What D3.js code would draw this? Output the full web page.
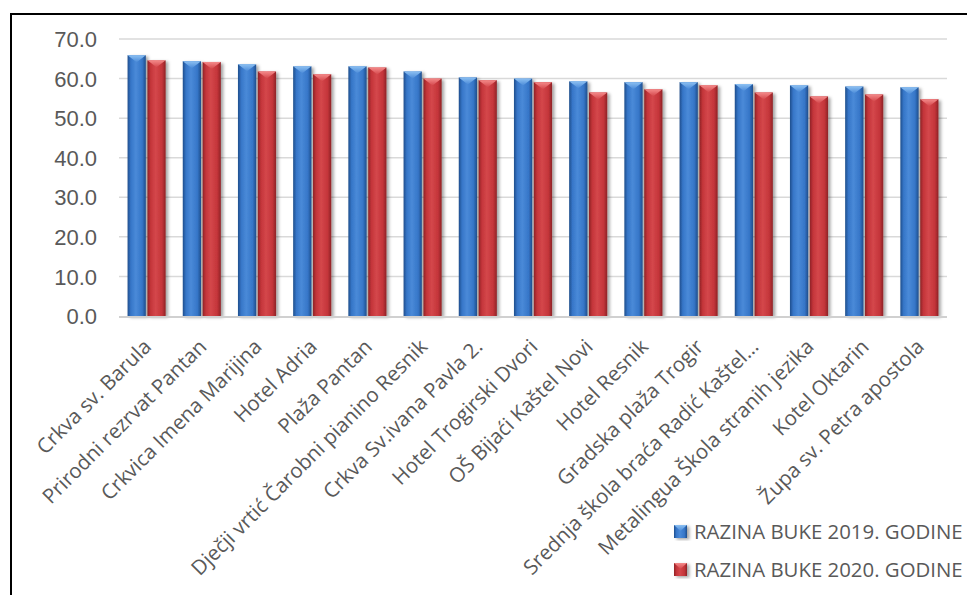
<!DOCTYPE html>
<html>
<head>
<meta charset="utf-8">
<script src="https://cdn.jsdelivr.net/npm/d3@7"></script>
<style>
  html, body { margin: 0; padding: 0; background: #fff; overflow: hidden; }
  svg { display: block; font-family: "Open Sans", "Noto Sans", sans-serif; }
</style>
</head>
<body>
<svg id="chart" width="967" height="595"></svg>
<script>
// Measurement locations
const categories = [
  "Crkva sv. Barula",
  "Prirodni rezrvat Pantan",
  "Crkvica Imena Marijina",
  "Hotel Adria",
  "Plaža Pantan",
  "Dječji vrtić Čarobni pianino Resnik",
  "Crkva Sv.ivana Pavla 2.",
  "Hotel Trogirski Dvori",
  "OŠ Bijaći Kaštel Novi",
  "Hotel Resnik",
  "Gradska plaža Trogir",
  "Srednja škola braća Radić Kaštel…",
  "Metalingua Škola stranih jezika",
  "Kotel Oktarin",
  "Župa sv. Petra apostola"
];

// Noise level per location and year
const values2019 = [65.9, 64.4, 63.6, 63.1, 63.1, 61.8, 60.3, 60.0, 59.3, 59.1, 59.1, 58.6, 58.3, 58.0, 57.8];
const values2020 = [64.6, 64.2, 61.8, 61.1, 62.8, 60.0, 59.6, 59.1, 56.5, 57.3, 58.3, 56.5, 55.5, 56.0, 54.8];

const seriesNames = ["RAZINA BUKE 2019. GODINE", "RAZINA BUKE 2020. GODINE"];
const yTicks = [0, 10, 20, 30, 40, 50, 60, 70];

const palette = {
  blue: { dark: "#1f4e8c", mid: "#3676c8", light: "#4a8ad8", cap: "#8cc0f2" },
  red:  { dark: "#8e2226", mid: "#c4353a", light: "#d4474b", cap: "#f48a8a" }
};
const seriesColors = [palette.blue, palette.red];

const svg = d3.select("#chart");
const defs = svg.append("defs");

// Horizontal shading for the rounded-bar look
seriesColors.forEach((c, i) => {
  const g = defs.append("linearGradient").attr("id", "body" + i)
    .attr("x1", "0").attr("x2", "1").attr("y1", "0").attr("y2", "0");
  g.append("stop").attr("offset", "0%").attr("stop-color", c.dark);
  g.append("stop").attr("offset", "18%").attr("stop-color", c.mid);
  g.append("stop").attr("offset", "45%").attr("stop-color", c.light);
  g.append("stop").attr("offset", "80%").attr("stop-color", c.mid);
  g.append("stop").attr("offset", "100%").attr("stop-color", c.dark);
  const cg = defs.append("linearGradient").attr("id", "cap" + i)
    .attr("x1", "0").attr("x2", "0").attr("y1", "0").attr("y2", "1");
  cg.append("stop").attr("offset", "0%").attr("stop-color", c.cap);
  cg.append("stop").attr("offset", "100%").attr("stop-color", c.light);
});

const shadow = defs.append("filter").attr("id", "shadow")
  .attr("x", "-30%").attr("y", "-10%").attr("width", "180%").attr("height", "130%");
shadow.append("feDropShadow").attr("dx", 2.5).attr("dy", 1.5)
  .attr("stdDeviation", 1.6).attr("flood-color", "#000").attr("flood-opacity", 0.35);

// Outer frame
svg.append("rect")
  .attr("x", 11).attr("y", 14).attr("width", 1000).attr("height", 620)
  .attr("fill", "none").attr("stroke", "#000").attr("stroke-width", 2);

const plot = { left: 119, right: 947, top: 39, bottom: 316 };

const x = d3.scaleBand()
  .domain(categories)
  .range([plot.left, plot.right])
  .paddingInner(0.31)
  .paddingOuter(0.155);

const xs = d3.scaleBand()
  .domain(d3.range(seriesNames.length))
  .range([0, x.bandwidth()])
  .paddingInner(0.08);

const y = d3.scaleLinear().domain([0, 70]).range([plot.bottom, plot.top]);

// Gridlines
svg.append("g").selectAll("line").data(yTicks.filter(t => t > 0)).join("line")
  .attr("x1", plot.left).attr("x2", plot.right)
  .attr("y1", d => y(d)).attr("y2", d => y(d))
  .attr("stroke", "#d9d9d9").attr("stroke-width", 1.5);

// Y axis labels
const yAxis = d3.axisLeft(y).tickValues(yTicks).tickFormat(d3.format(".1f")).tickSize(0).tickPadding(0);
const yg = svg.append("g").attr("transform", `translate(97,0)`).call(yAxis);
yg.select(".domain").remove();
yg.selectAll("text")
  .attr("fill", "#595959").style("font-size", "22px")
  .attr("dy", "0.35em");

// Bars
const groups = svg.append("g").selectAll("g").data(categories).join("g")
  .attr("transform", d => `translate(${x(d)},0)`);

const barData = (cat, ci) => [values2019[ci], values2020[ci]].map((v, si) => ({ v, si }));

groups.each(function(cat, ci) {
  const g = d3.select(this);
  const bars = g.selectAll("g.bar").data(barData(cat, ci)).join("g").attr("class", "bar")
    .attr("filter", "url(#shadow)");
  bars.append("rect")
    .attr("x", d => xs(d.si)).attr("width", xs.bandwidth())
    .attr("y", d => y(d.v)).attr("height", d => y(0) - y(d.v))
    .attr("fill", d => `url(#body${d.si})`);
  bars.append("path")
    .attr("d", d => {
      const x0 = xs(d.si), x1 = x0 + xs.bandwidth(), yt = y(d.v);
      return `M${x0},${yt} L${x1},${yt} L${(x0 + x1) / 2},${yt + 7} Z`;
    })
    .attr("fill", d => `url(#cap${d.si})`);
});

// Baseline
svg.append("line")
  .attr("x1", plot.left).attr("x2", plot.right)
  .attr("y1", y(0) + 1).attr("y2", y(0) + 1)
  .attr("stroke", "#d0d0d0").attr("stroke-width", 2);

// Category labels, rotated
svg.append("g").selectAll("text").data(categories).join("text")
  .attr("transform", d => `translate(${x(d) + x.bandwidth() / 2 + 6},348) rotate(-45)`)
  .attr("text-anchor", "end")
  .attr("fill", "#595959")
  .style("font-size", "20.5px")
  .text(d => d);

// Legend
const legend = svg.append("g").selectAll("g").data(seriesNames).join("g")
  .attr("transform", (d, i) => `translate(674,${525 + i * 38})`);
legend.append("rect")
  .attr("width", 13).attr("height", 13)
  .attr("fill", (d, i) => `url(#body${i})`)
  .attr("filter", "url(#shadow)");
legend.append("path")
  .attr("d", "M0,0 L13,0 L6.5,6 Z")
  .attr("fill", (d, i) => `url(#cap${i})`);
legend.append("text")
  .attr("x", 20).attr("y", 14)
  .attr("fill", "#595959")
  .style("font-size", "20.4px")
  .text(d => d);
</script>
</body>
</html>
